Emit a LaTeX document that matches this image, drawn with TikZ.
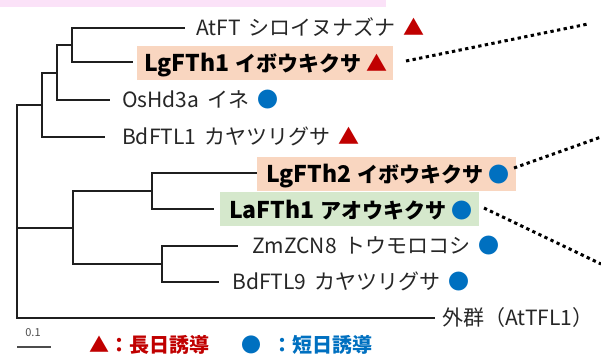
\documentclass[tikz,border=0pt]{standalone}
\usepackage{fontspec}
\setmainfont{Noto Sans CJK JP}
\definecolor{ldred}{RGB}{192,0,0}
\definecolor{sdblue}{RGB}{0,112,192}
\definecolor{orbg}{RGB}{249,214,192}
\definecolor{grbg}{RGB}{213,232,204}
\definecolor{pinkbg}{RGB}{251,226,248}
\newcommand{\LDtri}{{\color{ldred}▲}}
\newcommand{\SDdot}{{\color{sdblue}●}}
\newcommand{\latinbig}[1]{{\fontsize{23}{26}\selectfont #1}}
\newcommand{\regfont}{\fontsize{21}{24}\selectfont\spaceskip 8pt\relax}
\newcommand{\hlfont}{\bfseries\fontsize{21}{24}\selectfont\spaceskip 5.5pt\relax}
\begin{document}
\begin{tikzpicture}[x=1pt,y=-1pt,
  branch/.style={line width=2pt, black!88},
  leaf/.style={anchor=base west, inner sep=0pt, font=\regfont, text=black!85},
  hlleaf/.style={anchor=base west, inner sep=0pt, font=\hlfont, text=black},
  hlbox/.style={inner sep=0pt, minimum height=34pt, anchor=north west},
  link/.style={line width=3pt, dash pattern=on 3.3pt off 3.4pt, black},
  legend/.style={anchor=base west, inner sep=0pt, font=\bfseries\fontsize{20}{24}\selectfont}
]
\useasboundingbox (0,0) rectangle (601,356);
\fill[pinkbg] (0,0) rectangle (386,7);

% highlight boxes
\node[hlbox, fill=orbg, minimum width=256pt] (box1) at (137,46) {};
\node[hlbox, fill=orbg, minimum width=259pt] (box2) at (257,157) {};
\node[hlbox, fill=grbg, minimum width=259pt] (box3) at (220,192) {};

% internal nodes
\coordinate (n1) at (72,45);
\coordinate (n2) at (57,72.5);
\coordinate (n3) at (42,105);
\coordinate (n4) at (152,191);
\coordinate (n5) at (162,264);
\coordinate (n6) at (73,227.5);
\coordinate (root) at (17,211);
% leaf tips
\coordinate (tAt) at (185,28);
\coordinate (tLg1) at (133,62);
\coordinate (tOs) at (110,100);
\coordinate (tBd1) at (105,137);
\coordinate (tLg2) at (257,173);
\coordinate (tLa) at (214,209);
\coordinate (tZm) at (238,246);
\coordinate (tBd9) at (219,282);
\coordinate (tOut) at (435,318);

\draw[branch] (n1) |- (tAt);
\draw[branch] (n1) |- (tLg1);
\draw[branch] (n2) |- (n1);
\draw[branch] (n2) |- (tOs);
\draw[branch] (n3) |- (n2);
\draw[branch] (n3) |- (tBd1);
\draw[branch] (n4) |- (tLg2);
\draw[branch] (n4) |- (tLa);
\draw[branch] (n5) |- (tZm);
\draw[branch] (n5) |- (tBd9);
\draw[branch] (n6) |- (n4);
\draw[branch] (n6) |- (n5);
\draw[branch] (root) |- (n3);
\draw[branch] (root) |- (n6);
\draw[branch] (root) |- (tOut);

% labels
\node[leaf] (lAt) at (196,35.5) {AtFT シロイヌナズナ \LDtri};
\node[hlleaf] (lLg1) at (144,71) {\latinbig{LgFTh1} イボウキクサ \LDtri};
\node[leaf] (lOs) at (122,107.5) {OsHd3a イネ \SDdot};
\node[leaf] (lBd1) at (122,144.5) {BdFTL1 カヤツリグサ \LDtri};
\node[hlleaf] (lLg2) at (266,182) {\latinbig{LgFTh2} イボウキクサ \SDdot};
\node[hlleaf] (lLa) at (229,218) {\latinbig{LaFTh1} アオウキクサ \SDdot};
\node[leaf] (lZm) at (252,253.5) {ZmZCN8 トウモロコシ \SDdot};
\node[leaf] (lBd9) at (232,289.5) {BdFTL9 カヤツリグサ \SDdot};
\node[leaf] (lOut) at (442,325.5) {外群（AtTFL1）};

% dotted links
\coordinate (d1s) at (406,61);
\coordinate (d1e) at (588,24);
\coordinate (d2s) at (514,168);
\coordinate (d2e) at (601,137);
\coordinate (d3s) at (484,208);
\coordinate (d3e) at (601,264);
\draw[link] (d1s) -- (d1e);
\draw[link] (d2s) -- (d2e);
\draw[link] (d3s) -- (d3e);

% scale bar
\node[font=\fontsize{11}{13}\selectfont, text=black!70, inner sep=0pt] (sc) at (33,333) {0.1};
\coordinate (s1) at (17,347);
\coordinate (s2) at (51,347);
\draw[black!70, line width=1.2pt] (s1) -- (s2);

% legend
\node[legend, text=ldred] (legL) at (89,352) {▲：長日誘導};
\node[legend, text=sdblue] (legS) at (241,352) {●\hspace{11pt}：短日誘導};
\end{tikzpicture}
\end{document}
